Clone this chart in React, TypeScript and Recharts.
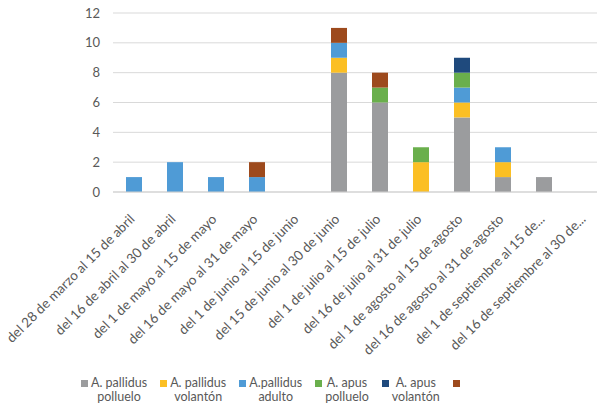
import React from 'react';
import { BarChart, Bar, XAxis, YAxis, CartesianGrid, Legend } from 'recharts';

const periods = [
  'del 28 de marzo al 15 de abril',
  'del 16 de abril al 30 de abril',
  'del 1 de mayo al 15 de mayo',
  'del 16 de mayo al 31 de mayo',
  'del 1 de junio al 15 de junio',
  'del 15 de junio al 30 de junio',
  'del 1 de julio al 15 de julio',
  'del 16 de julio al 31 de julio',
  'del 1 de agosto al 15 de agosto',
  'del 16 de agosto al 31 de agosto',
  'del 1 de septiembre al 15 de...',
  'del 16 de septiembre al 30 de...',
];

const pallidusPolluelo = [0, 0, 0, 0, 0, 8, 6, 0, 5, 1, 1, 0];
const pallidusVolanton = [0, 0, 0, 0, 0, 1, 0, 2, 1, 1, 0, 0];
const pallidusAdulto = [1, 2, 1, 1, 0, 1, 0, 0, 1, 1, 0, 0];
const apusPolluelo = [0, 0, 0, 0, 0, 0, 1, 1, 1, 0, 0, 0];
const apusVolanton = [0, 0, 0, 0, 0, 0, 0, 0, 1, 0, 0, 0];
const otros = [0, 0, 0, 1, 0, 1, 1, 0, 0, 0, 0, 0];

const yTicks = [0, 2, 4, 6, 8, 10, 12];

const series = [
  { key: 'pp', name: 'A. pallidus polluelo', lines: ['A. pallidus', 'polluelo'], color: '#9b9c9e', values: pallidusPolluelo },
  { key: 'pv', name: 'A. pallidus volantón', lines: ['A. pallidus', 'volantón'], color: '#fbbf24', values: pallidusVolanton },
  { key: 'pa', name: 'A.pallidus adulto', lines: ['A.pallidus', 'adulto'], color: '#4f9bd6', values: pallidusAdulto },
  { key: 'ap', name: 'A. apus polluelo', lines: ['A. apus', 'polluelo'], color: '#6aaf4c', values: apusPolluelo },
  { key: 'av', name: 'A. apus volantón', lines: ['A. apus', 'volantón'], color: '#1f4a7d', values: apusVolanton },
  { key: 'ot', name: '', lines: ['', ''], color: '#9d4a1d', values: otros },
];

const data = periods.map((p, i) => {
  const row: any = { name: p };
  series.forEach((s) => {
    row[s.key] = s.values[i];
  });
  return row;
});

const FONT = 'Lato, "Noto Sans", sans-serif';
const TEXT = '#595959';

const AngledTick = ({ x, y, payload }: any) => (
  <text
    x={x + 2}
    y={y + 20}
    transform={`rotate(-45, ${x + 2}, ${y + 20})`}
    textAnchor="end"
    fontSize={13.5}
    fontFamily={FONT}
    fill={TEXT}
  >
    {payload.value}
  </text>
);

const LegendContent = () => (
  <div style={{ display: 'flex', justifyContent: 'flex-start', paddingLeft: 81, fontFamily: FONT, fontSize: 12.5, color: TEXT }}>
    {series.map((s) => (
      <div key={s.key} style={{ display: 'flex', alignItems: 'flex-start', marginRight: 13 }}>
        <span style={{ width: 7, height: 7, background: s.color, marginTop: 4, marginRight: 3 }} />
        <div style={{ textAlign: 'center', lineHeight: '14px' }}>
          <div>{s.lines[0]}</div>
          <div>{s.lines[1]}</div>
        </div>
      </div>
    ))}
  </div>
);

export default function App() {
  return (
    <div style={{ position: 'fixed', left: 0, top: 0, width: 597, height: 403, overflow: 'hidden', background: '#fff' }}>
      <BarChart
        width={620}
        height={403}
        data={data}
        margin={{ top: 13, right: 15, left: 0, bottom: 0 }}
        barSize={16}
      >
        <CartesianGrid vertical={false} stroke="#d9d9d9" />
        <XAxis
          dataKey="name"
          interval={0}
          height={211}
          tick={<AngledTick />}
          tickLine={false}
          axisLine={{ stroke: '#d0d0d0' }}
        />
        <YAxis
          width={113}
          domain={[0, 12]}
          ticks={yTicks}
          tickLine={false}
          axisLine={false}
          tick={{ fill: TEXT, fontSize: 13, fontFamily: FONT }}
          dx={-5}
        />
        <Legend
          layout="horizontal"
          verticalAlign="middle"
          content={<LegendContent />}
          wrapperStyle={{ position: 'absolute', top: 376, left: 0, width: 597 }}
        />
        {series.map((s) => (
          <Bar key={s.key} dataKey={s.key} name={s.name} stackId="a" fill={s.color} isAnimationActive={false} />
        ))}
      </BarChart>
    </div>
  );
}
